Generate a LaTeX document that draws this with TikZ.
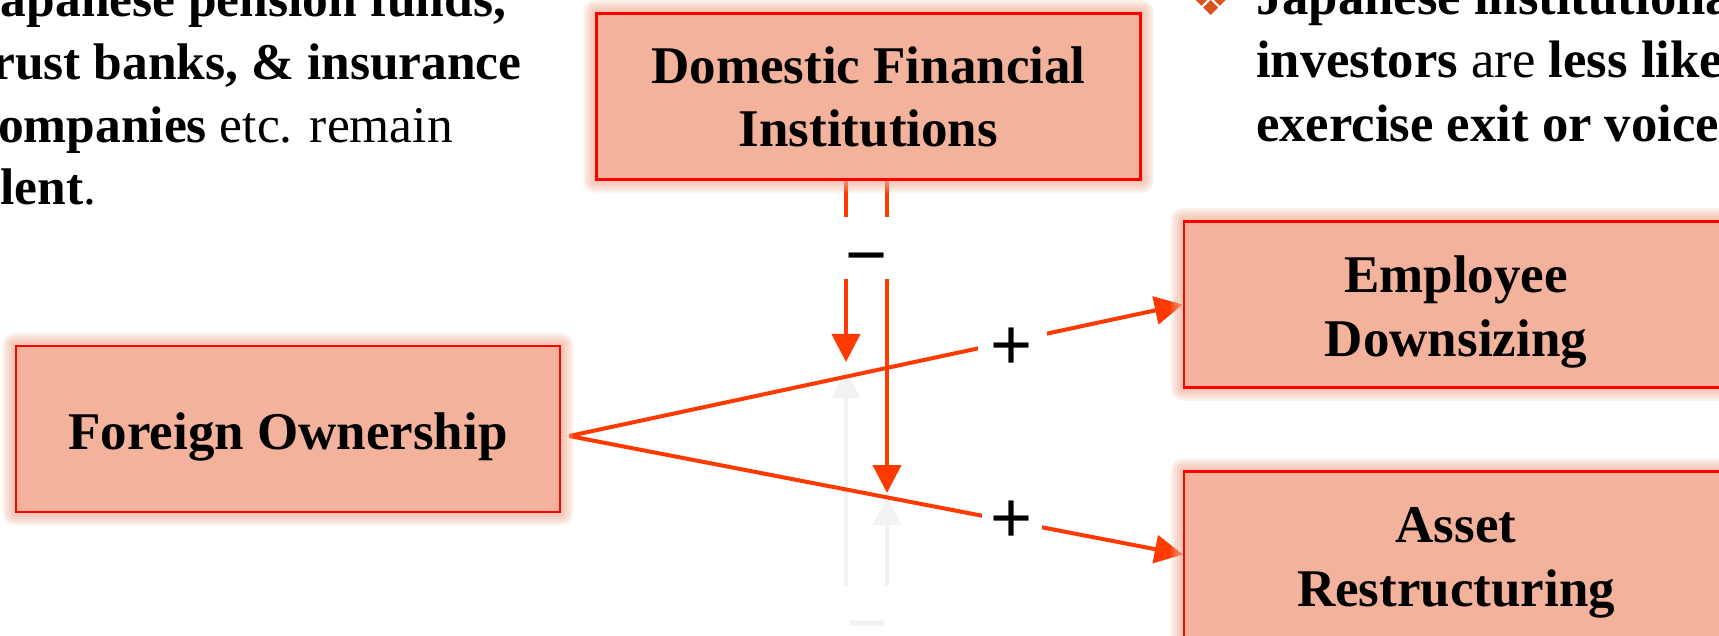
\documentclass[tikz,border=0pt]{standalone}
\usepackage{fontspec}
\setmainfont{Liberation Serif}
\newfontfamily\lsans{Liberation Sans}
\newfontfamily\djv{DejaVu Sans}
\usetikzlibrary{arrows.meta,calc}
\definecolor{salmon}{HTML}{F3B29B}
\definecolor{bordred}{HTML}{FF0000}
\definecolor{arrred}{HTML}{FF3A00}
\definecolor{ghost}{HTML}{F2F2F2}
\definecolor{bulletc}{HTML}{D9541E}
\pgfdeclarelayer{bg}
\pgfdeclarelayer{glow}
\pgfsetlayers{bg,glow,main}
\tikzset{
  box/.style={draw=bordred, line width=2.5pt, fill=salmon, minimum width=544pt, minimum height=166pt, inner sep=0pt},
  boxtext/.style={anchor=base, font=\fontsize{53}{63}\selectfont\bfseries, inner sep=0pt},
  bodytext/.style={anchor=base west, font=\fontsize{51.5}{63}\selectfont, inner sep=0pt},
  rbodytext/.style={anchor=base west, font=\fontsize{52.7}{63}\selectfont, inner sep=0pt},
  conn/.style={draw=arrred, line width=4pt, -{Triangle[width=28pt,length=28pt]}},
  ghostconn/.style={draw=ghost, line width=4pt, -{Triangle[width=28pt,length=28pt]}},
  sign/.style={font=\lsans\fontsize{72}{72}\selectfont, inner sep=0pt},
  gapbox/.style={fill=white, inner sep=0pt},
}
\begin{document}
\begin{tikzpicture}[x=1pt,y=-1pt]
\useasboundingbox (0,0) rectangle (1719,636);

% boxes
\node[box] (D) at (868.5,96.5) {};
\node[boxtext] (D1) at (868.5,84) {Domestic Financial};
\node[boxtext] (D2) at (868.5,147) {Institutions};
\node[box] (F) at (288,429) {};
\node[boxtext] (F1) at (288,449) {Foreign Ownership};
\node[box] (E) at (1456,304.5) {};
\node[boxtext] (E1) at (1456,293) {Employee};
\node[boxtext] (E2) at (1456,356) {Downsizing};
\node[box] (A) at (1456,554.5) {};
\node[boxtext] (A1) at (1456,542) {Asset};
\node[boxtext] (A2) at (1456,606) {Restructuring};

% glow
\begin{pgfonlayer}{glow}
\foreach \n in {D,F,E,A}{
  \foreach \r in {2,4,6,8,10,12}{
    \fill[salmon, opacity=0.17, rounded corners=\r pt] ($(\n.north west)+(-\r,-\r)$) rectangle ($(\n.south east)+(\r,\r)$);
  }}
\end{pgfonlayer}

% connectors
\begin{pgfonlayer}{bg}
\fill[white] (0,0) rectangle (1719,636);
\coordinate (g1) at (846,370);
\coordinate (g2) at (887,497);
\coordinate (gb1) at (846,660);
\coordinate (gb2) at (887,660);
\draw[ghostconn] (gb1) -- (g1);
\draw[ghostconn] (gb2) -- (g2);
\coordinate (fo) at ($(F.east)+(8,7)$);
\draw[conn] (fo) -- (E.west);
\draw[conn] (fo) -- (A.west);
\coordinate (t1) at (846,362);
\coordinate (t2) at (887,493);
\draw[conn] (D.south -| t1) -- (t1);
\draw[conn] (D.south -| t2) -- (t2);
\node[gapbox, minimum width=62pt, minimum height=62pt] (mgap) at (866.5,248) {};
\node[sign] (minus) at (867,266) {−};
\node[gapbox, minimum width=69pt, minimum height=44pt] (p1gap) at (1012.5,341) {};
\node[sign] (plus1) at (1012,349) {+};
\node[gapbox, minimum width=60pt, minimum height=44pt] (p2gap) at (1012,521) {};
\node[sign] (plus2) at (1012,522) {+};
\node[gapbox, minimum width=62pt, minimum height=62pt] (ggap) at (866.5,617) {};
\node[sign, text=ghost] (gminus) at (868,634) {−};
\end{pgfonlayer}

% body text left
\node[bodytext] (L1) at (-25,17) {\bfseries Japanese pension funds,};
\node[bodytext] (L2) at (-25,80) {\bfseries trust banks, \& insurance};
\node[bodytext] (L3) at (-25,143) {\textbf{companies} etc. remain};
\node[bodytext] (L4) at (-34,205) {\textbf{silent}.};

% body text right
\node[font=\djv\fontsize{46}{46}\selectfont, text=bulletc, inner sep=0pt] (bul) at (1211,-1) {❖};
\node[rbodytext] (R1) at (1256,15) {\bfseries Japanese institutional};
\node[rbodytext] (R2) at (1256,78) {\textbf{investors} are \textbf{less likely to}};
\node[rbodytext] (R3) at (1256,142) {\bfseries exercise exit or voice};
\end{tikzpicture}
\end{document}
